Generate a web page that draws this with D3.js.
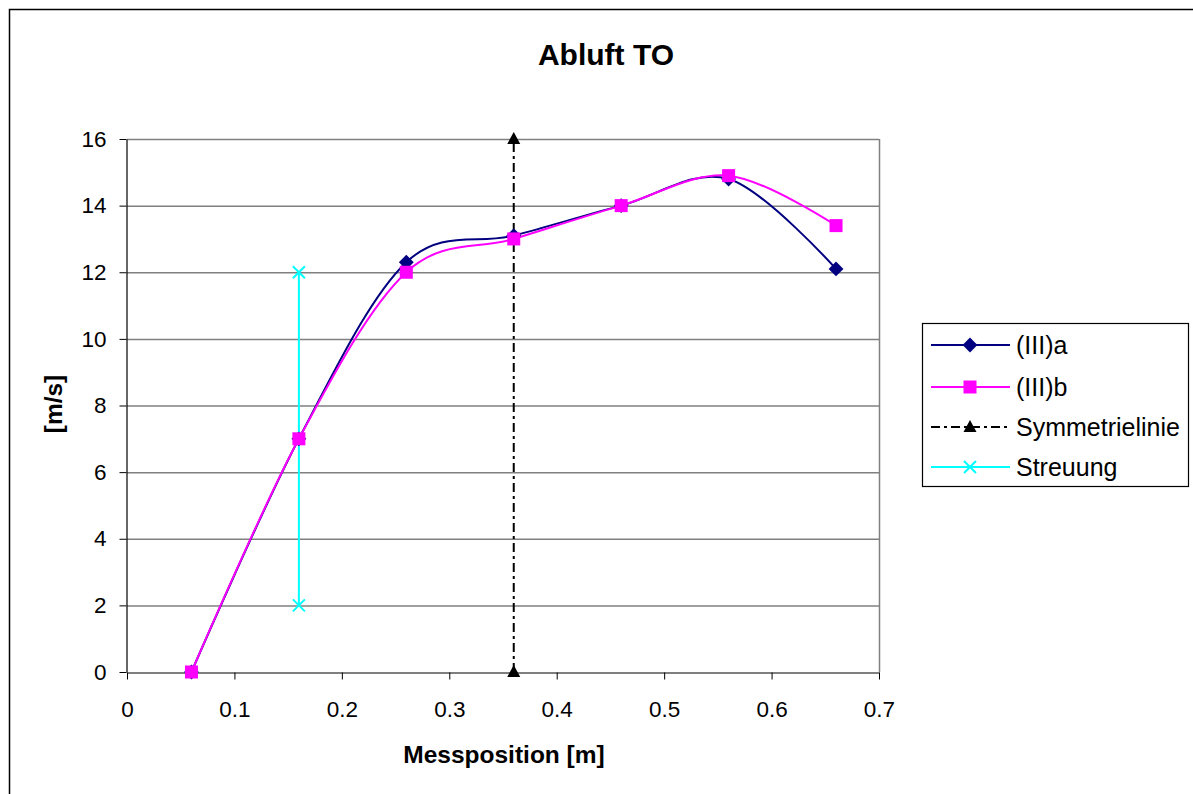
<!DOCTYPE html>
<html lang="en">
<head>
  <meta charset="utf-8" />
  <title>Abluft TO</title>
  <script src="https://d3js.org/d3.v7.min.js"></script>
  <style>
    body { margin: 0; background: #fff; }
    text { font-family: "Liberation Sans", Arial, sans-serif; }
  </style>
</head>
<body>
  <div id="chart"></div>
  <script>
    // data
    var posA = [0.06, 0.16, 0.26, 0.36, 0.46, 0.56, 0.66];
    var valA = [0, 7.0, 12.3, 13.1, 14.0, 14.8, 12.1];
    var posB = [0.06, 0.16, 0.26, 0.36, 0.46, 0.56, 0.66];
    var valB = [0, 7.0, 12.0, 13.0, 14.0, 14.9, 13.4];
    var symPos = [0.36, 0.36];
    var symVal = [0, 16];
    var streuPos = [0.16, 0.16];
    var streuVal = [2, 12];
    var xTicks = [0, 0.1, 0.2, 0.3, 0.4, 0.5, 0.6, 0.7];
    var yTicks = [0, 2, 4, 6, 8, 10, 12, 14, 16];
    var seriesNames = ["(III)a", "(III)b", "Symmetrielinie", "Streuung"];

    var W = 1193, H = 794;
    var plot = { left: 127, top: 139, right: 879, bottom: 672 };

    var svg = d3.select("#chart")
                .append("svg")
                .attr("width", W)
                .attr("height", H);

    // outer chart border
    svg.append("rect")
       .attr("x", 9.5).attr("y", 9.5)
       .attr("width", 1200).attr("height", 800)
       .attr("fill", "none")
       .attr("stroke", "#000")
       .attr("stroke-width", 1.5);

    var x = d3.scaleLinear().domain([0, 0.7]).range([plot.left, plot.right]);
    var y = d3.scaleLinear().domain([0, 16]).range([plot.bottom, plot.top]);

    // gridlines
    svg.append("g")
       .selectAll("line")
       .data(yTicks.filter(function(d) { return d > 0; }))
       .enter()
       .append("line")
       .attr("x1", plot.left).attr("x2", plot.right)
       .attr("y1", function(d) { return y(d) + 0.5; })
       .attr("y2", function(d) { return y(d) + 0.5; })
       .attr("stroke", "#808080")
       .attr("stroke-width", 1.5);

    // plot area right edge
    svg.append("line")
       .attr("x1", plot.right + 0.5).attr("x2", plot.right + 0.5)
       .attr("y1", plot.top).attr("y2", plot.bottom)
       .attr("stroke", "#808080")
       .attr("stroke-width", 1.5);

    // axes
    var xAxis = d3.axisBottom(x).tickValues(xTicks).tickSize(7).tickSizeOuter(0)
                  .tickFormat(function(d) { return d === 0 ? "0" : d3.format(".1f")(d); });
    var gx = svg.append("g")
                .attr("transform", "translate(0," + (plot.bottom + 0.5) + ")")
                .call(xAxis);
    gx.select(".domain").attr("stroke", "#000").attr("stroke-width", 1.2);
    gx.selectAll(".tick line").attr("stroke", "#000");
    gx.selectAll("text")
      .attr("y", 44)
      .attr("dy", null)
      .style("font-size", "22.5px")
      .attr("fill", "#000");

    var yAxis = d3.axisLeft(y).tickValues(yTicks).tickSize(7).tickSizeOuter(0);
    var gy = svg.append("g")
                .attr("transform", "translate(" + (plot.left - 0.5) + ",0)")
                .call(yAxis);
    gy.select(".domain").attr("stroke", "#000").attr("stroke-width", 1.2);
    gy.selectAll(".tick line").attr("stroke", "#000");
    gy.selectAll("text")
      .attr("x", -20)
      .style("font-size", "22.5px")
      .attr("fill", "#000");
    svg.selectAll(".tick text").attr("font-family", "Liberation Sans, Arial, sans-serif");

    // lines
    var line = d3.line()
                 .x(function(d) { return x(d[0]); })
                 .y(function(d) { return y(d[1]); })
                 .curve(d3.curveCardinal.tension(0));
    var straight = d3.line()
                     .x(function(d) { return x(d[0]); })
                     .y(function(d) { return y(d[1]); });

    var ptsA = d3.zip(posA, valA);
    var ptsB = d3.zip(posB, valB);
    var ptsSym = d3.zip(symPos, symVal);
    var ptsStreu = d3.zip(streuPos, streuVal);

    svg.append("path").datum(ptsStreu)
       .attr("d", straight).attr("fill", "none")
       .attr("stroke", "#00ffff").attr("stroke-width", 2);

    svg.append("path").datum(ptsSym)
       .attr("d", straight).attr("fill", "none")
       .attr("stroke", "#000").attr("stroke-width", 2)
       .attr("stroke-dasharray", "9,4,3,4");

    svg.append("path").datum(ptsA)
       .attr("d", line).attr("fill", "none")
       .attr("stroke", "#000080").attr("stroke-width", 2);

    svg.append("path").datum(ptsB)
       .attr("d", line).attr("fill", "none")
       .attr("stroke", "#ff00ff").attr("stroke-width", 2);

    // markers
    var diamond = d3.symbol().type(d3.symbolSquare).size(110);
    function drawDiamond(g, cx, cy) {
      g.append("path")
       .attr("d", diamond())
       .attr("transform", "translate(" + cx + "," + cy + ") rotate(45)")
       .attr("fill", "#000080");
    }
    function drawSquare(g, cx, cy) {
      g.append("rect")
       .attr("x", cx - 6.5).attr("y", cy - 6.5)
       .attr("width", 13).attr("height", 13)
       .attr("fill", "#ff00ff");
    }
    function drawTriangle(g, cx, cy) {
      g.append("path")
       .attr("d", "M0,-7L6.5,5L-6.5,5Z")
       .attr("transform", "translate(" + cx + "," + cy + ")")
       .attr("fill", "#000");
    }
    function drawCross(g, cx, cy) {
      g.append("path")
       .attr("d", "M-6,-6L6,6M-6,6L6,-6")
       .attr("transform", "translate(" + cx + "," + cy + ")")
       .attr("stroke", "#00ffff").attr("stroke-width", 2);
    }

    var mk = svg.append("g");
    ptsStreu.forEach(function(d) { drawCross(mk, x(d[0]), y(d[1])); });
    ptsSym.forEach(function(d) { drawTriangle(mk, x(d[0]), y(d[1])); });
    ptsA.forEach(function(d) { drawDiamond(mk, x(d[0]), y(d[1])); });
    ptsB.forEach(function(d) { drawSquare(mk, x(d[0]), y(d[1])); });

    // titles
    svg.append("text")
       .attr("x", 606).attr("y", 65)
       .attr("text-anchor", "middle")
       .style("font-size", "30px").style("font-weight", "bold")
       .text("Abluft TO");

    svg.append("text")
       .attr("x", 504).attr("y", 763)
       .attr("text-anchor", "middle")
       .style("font-size", "24.5px").style("font-weight", "bold")
       .text("Messposition [m]");

    svg.append("text")
       .attr("transform", "translate(62,404) rotate(-90)")
       .attr("text-anchor", "middle")
       .style("font-size", "24.5px").style("font-weight", "bold")
       .text("[m/s]");

    // legend
    var lg = svg.append("g");
    lg.append("rect")
      .attr("x", 922.5).attr("y", 323.5)
      .attr("width", 266).attr("height", 163)
      .attr("fill", "#fff").attr("stroke", "#000").attr("stroke-width", 1.2);

    var legY = [345, 387, 427, 467];
    var legColors = ["#000080", "#ff00ff", "#000", "#00ffff"];
    var legMarkers = [drawDiamond, drawSquare, drawTriangle, drawCross];
    seriesNames.forEach(function(name, i) {
      var ln = lg.append("line")
                 .attr("x1", 931).attr("x2", 1010)
                 .attr("y1", legY[i]).attr("y2", legY[i])
                 .attr("stroke", legColors[i]).attr("stroke-width", 2);
      if (i === 2) ln.attr("stroke-dasharray", "9,4,3,4");
      legMarkers[i](lg, 970, legY[i]);
      lg.append("text")
        .attr("x", 1016).attr("y", legY[i])
        .attr("dy", "0.35em")
        .style("font-size", "25px")
        .text(name);
    });
  </script>
</body>
</html>
